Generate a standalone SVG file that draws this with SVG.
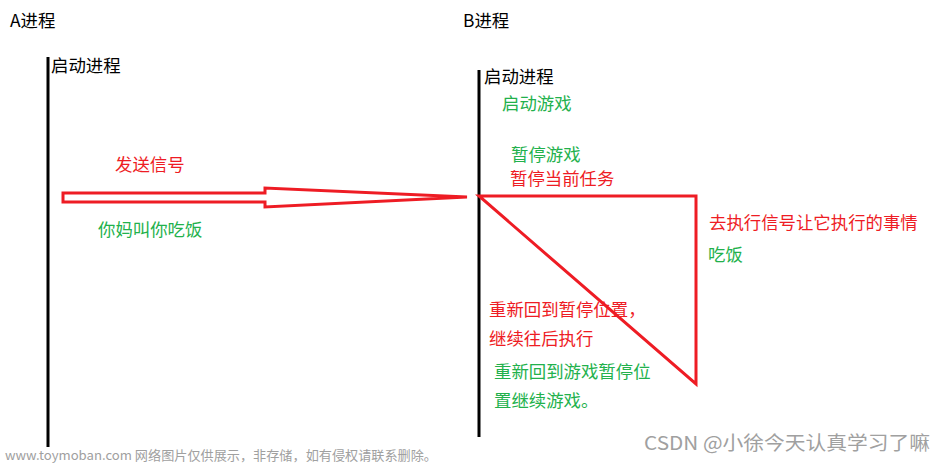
<svg xmlns="http://www.w3.org/2000/svg" width="944" height="464" viewBox="0 0 944 464">
<style>
text{font-family:"Noto Sans CJK SC","Liberation Sans",sans-serif;font-size:17.4px}
.k{fill:#000}
.r{fill:#ee1c24}
.g{fill:#22b14c}
.w{fill:#a0a0a0}
.ln{stroke:#000;stroke-width:3;fill:none}
.rd{stroke:#ee1c24;stroke-width:3;fill:none;stroke-linejoin:miter}
</style>
<rect width="944" height="464" fill="#fff"/>
<g id="processA">
<line class="ln" x1="48" y1="57" x2="48" y2="447"/>
<text class="k" x="10" y="27">A进程</text>
<text class="k" x="51" y="72">启动进程</text>
</g>
<g id="processB">
<line class="ln" x1="479" y1="70" x2="479" y2="437"/>
<text class="k" x="463" y="27">B进程</text>
<text class="k" x="484" y="83">启动进程</text>
<text class="g" x="502" y="110">启动游戏</text>
<text class="g" x="511" y="161">暂停游戏</text>
<text class="r" x="510" y="185">暂停当前任务</text>
</g>
<g id="connectors">
<polygon class="rd" points="63,193 265,193 265,188 467,197 265,207 265,202 63,202"/>
<polygon class="rd" points="479,196 696,196 696,384"/>
</g>
<g id="labels">
<text class="r" x="115" y="171">发送信号</text>
<text class="g" x="98" y="236">你妈叫你吃饭</text>
<text class="r" x="709" y="229">去执行信号让它执行的事情</text>
<text class="g" x="708" y="261">吃饭</text>
<text class="r" x="489" y="316">重新回到暂停位置，</text>
<text class="r" x="489" y="345">继续往后执行</text>
<text class="g" x="494" y="378">重新回到游戏暂停位</text>
<text class="g" x="494" y="407">置继续游戏。</text>
</g>
<g id="watermarks">
<text class="w" x="5" y="460" style="font-size:13px" textLength="432" lengthAdjust="spacingAndGlyphs">www.toymoban.com 网络图片仅供展示，非存储，如有侵权请联系删除。</text>
<text class="w" x="644" y="450" style="font-size:19px" textLength="286" lengthAdjust="spacingAndGlyphs">CSDN @小徐今天认真学习了嘛</text>
</g>
</svg>
